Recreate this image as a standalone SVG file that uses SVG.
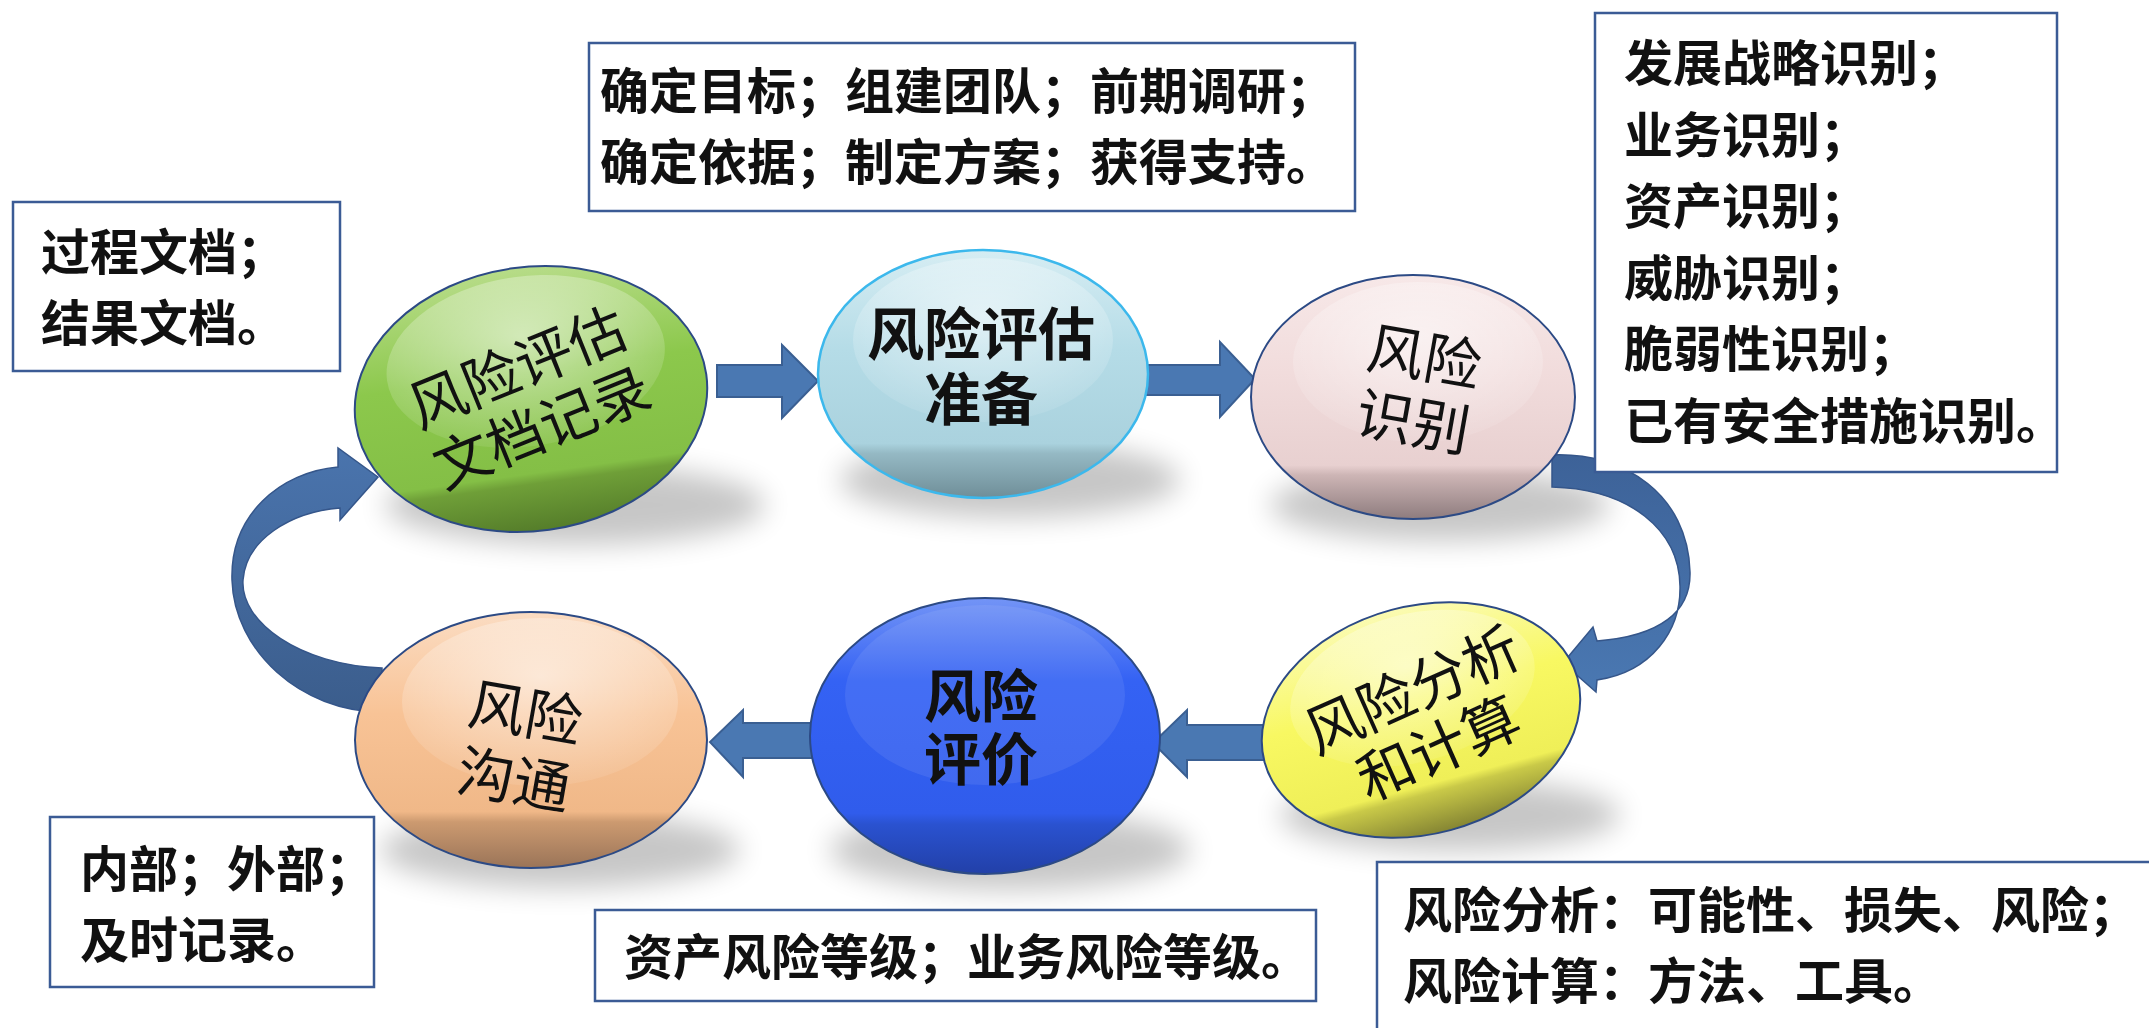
<svg xmlns="http://www.w3.org/2000/svg" width="2149" height="1028" viewBox="0 0 2149 1028">
<style>
.box{fill:#fff;stroke:#3b5b95;stroke-width:2.5}
.bt{font-family:"Noto Sans CJK SC","Noto Sans CJK TC",sans-serif;font-size:49px;font-weight:bold;fill:#111}
.nt{font-family:"Liberation Sans","Noto Sans CJK SC","Noto Sans CJK TC",sans-serif;font-size:57px;fill:#111;text-anchor:middle}
.nb{font-weight:bold}
.edge{stroke:#2c4a85;stroke-width:2}
.arr{fill:#4a78b2;stroke:#3a5f92;stroke-width:2}
.carr{stroke:#35568a;stroke-width:1.5}
.hl{fill:url(#hl)}
.sh{fill:#000;opacity:.22;filter:url(#blur)}
</style>
<defs>
<filter id="blur" x="-50%" y="-50%" width="200%" height="200%"><feGaussianBlur stdDeviation="14"/></filter>
<radialGradient id="hl" cx="0.5" cy="0.35" r="0.65"><stop offset="0" stop-color="#fff" stop-opacity="0.55"/><stop offset="1" stop-color="#fff" stop-opacity="0.08"/></radialGradient>
<linearGradient id="gGreen" x1="0" y1="0" x2="0" y2="1"><stop offset="0" stop-color="#b7dc88"/><stop offset="0.4" stop-color="#8cc84c"/><stop offset="0.78" stop-color="#84bf46"/><stop offset="0.82" stop-color="#6f9f38"/><stop offset="1" stop-color="#557d2a"/></linearGradient>
<linearGradient id="gLBlue" x1="0" y1="0" x2="0" y2="1"><stop offset="0" stop-color="#d6edf3"/><stop offset="0.4" stop-color="#b5dce7"/><stop offset="0.78" stop-color="#aad2de"/><stop offset="0.82" stop-color="#95b9c4"/><stop offset="1" stop-color="#6f8e98"/></linearGradient>
<linearGradient id="gPink" x1="0" y1="0" x2="0" y2="1"><stop offset="0" stop-color="#f7e8e8"/><stop offset="0.4" stop-color="#f1dcdc"/><stop offset="0.78" stop-color="#e8d0d0"/><stop offset="0.82" stop-color="#cdb5b5"/><stop offset="1" stop-color="#8e7c7e"/></linearGradient>
<linearGradient id="gYellow" x1="0" y1="0" x2="0" y2="1"><stop offset="0" stop-color="#fbfbb2"/><stop offset="0.4" stop-color="#f8f862"/><stop offset="0.78" stop-color="#efef58"/><stop offset="0.82" stop-color="#c9c948"/><stop offset="1" stop-color="#858533"/></linearGradient>
<linearGradient id="gBlue" x1="0" y1="0" x2="0" y2="1"><stop offset="0" stop-color="#7394f6"/><stop offset="0.3" stop-color="#3462f4"/><stop offset="0.78" stop-color="#305cec"/><stop offset="0.82" stop-color="#2a52d0"/><stop offset="1" stop-color="#2240a8"/></linearGradient>
<linearGradient id="gOrange" x1="0" y1="0" x2="0" y2="1"><stop offset="0" stop-color="#fbdcc2"/><stop offset="0.4" stop-color="#f8c396"/><stop offset="0.78" stop-color="#f0b888"/><stop offset="0.82" stop-color="#cc9a70"/><stop offset="1" stop-color="#9a7458"/></linearGradient>
<linearGradient id="gArcL" x1="0" y1="0" x2="0" y2="1"><stop offset="0" stop-color="#4a74ad"/><stop offset="1" stop-color="#3b5d8c"/></linearGradient>
<linearGradient id="gArcR" x1="0" y1="0" x2="0" y2="1"><stop offset="0" stop-color="#3d6298"/><stop offset="1" stop-color="#4a78b2"/></linearGradient>
</defs>

<g id="shadows">
<ellipse class="sh" cx="575" cy="505" rx="190" ry="40"/>
<ellipse class="sh" cx="1010" cy="480" rx="170" ry="38"/>
<ellipse class="sh" cx="1440" cy="505" rx="170" ry="36"/>
<ellipse class="sh" cx="1450" cy="815" rx="170" ry="36"/>
<ellipse class="sh" cx="1010" cy="850" rx="180" ry="40"/>
<ellipse class="sh" cx="560" cy="850" rx="180" ry="38"/>
</g>

<g id="connectors">
<path class="arr" d="M717,365 H782 V345 L818,381 L782,418 V397 H717 Z"/>
<path class="arr" d="M1145,365 H1220 V342 L1255,379 L1220,417 V395 H1145 Z"/>
<path class="arr" d="M1264,725 H1187 V710 L1153,743 L1187,777 V760 H1264 Z"/>
<path class="arr" d="M815,723 H743 V710 L710,742 L743,777 V758 H815 Z"/>
<path class="carr" fill="url(#gArcL)" d="M382,712 L382,668 C300,665 240,622 243,580 C246,540 290,512 340,508 L340,520 L378,477 L338,448 L338,467 C280,472 230,515 232,580 C234,650 300,712 382,712 Z"/>
<path class="carr" fill="url(#gArcR)" d="M1552,455 C1625,452 1688,495 1690,572 C1691,612 1660,636 1597,641 L1593,627 L1563,663 L1596,692 L1597,680 C1652,672 1681,630 1680,586 C1679,530 1630,489 1552,487 Z"/>
</g>

<g id="node-doc">
<g transform="translate(531,399) rotate(-8)">
<ellipse class="edge" rx="177" ry="132" fill="url(#gGreen)"/>
<ellipse class="hl" cy="-38" rx="140" ry="85"/>
</g>
<g transform="translate(529,396) rotate(-22)">
<text class="nt" x="0" y="-10">风险评估</text>
<text class="nt" x="0" y="55">文档记录</text>
</g>
</g>

<g id="node-prep">
<ellipse cx="983" cy="374" rx="165" ry="124" fill="url(#gLBlue)" stroke="#3cb8ec" stroke-width="2.5"/>
<ellipse class="hl" cx="983" cy="340" rx="130" ry="82"/>
<text class="nt nb" x="981" y="355">风险评估</text>
<text class="nt nb" x="981" y="420">准备</text>
</g>

<g id="node-ident">
<ellipse class="edge" cx="1413" cy="397" rx="162" ry="122" fill="url(#gPink)"/>
<ellipse class="hl" cx="1418" cy="362" rx="125" ry="80"/>
<g transform="translate(1419,388) rotate(10)">
<text class="nt" x="0" y="-11">风险</text>
<text class="nt" x="0" y="55">识别</text>
</g>
</g>

<g id="node-analysis">
<g transform="translate(1421,720) rotate(-15)">
<ellipse class="edge" rx="162" ry="114" fill="url(#gYellow)"/>
<ellipse class="hl" cy="-33" rx="125" ry="74"/>
</g>
<g transform="translate(1425,718) rotate(-24)">
<text class="nt" x="0" y="-10">风险分析</text>
<text class="nt" x="0" y="54">和计算</text>
</g>
</g>

<g id="node-eval">
<ellipse class="edge" cx="985" cy="736" rx="175" ry="138" fill="url(#gBlue)"/>
<ellipse cx="985" cy="695" rx="140" ry="90" fill="#fff" opacity="0.08"/>
<text class="nt nb" x="981" y="717">风险</text>
<text class="nt nb" x="981" y="780">评价</text>
</g>

<g id="node-comm">
<ellipse class="edge" cx="531" cy="740" rx="176" ry="128" fill="url(#gOrange)"/>
<ellipse class="hl" cx="540" cy="702" rx="138" ry="84"/>
<g transform="translate(520,745) rotate(10)">
<text class="nt" x="0" y="-12">风险</text>
<text class="nt" x="0" y="56">沟通</text>
</g>
</g>

<g id="note-doc">
<rect class="box" x="13" y="202" width="327" height="169"/>
<text class="bt" x="41" y="270">过程文档；</text>
<text class="bt" x="41" y="341">结果文档。</text>
</g>

<g id="note-prep">
<rect class="box" x="589" y="43" width="766" height="168"/>
<text class="bt" x="600" y="109">确定目标；组建团队；前期调研；</text>
<text class="bt" x="600" y="180">确定依据；制定方案；获得支持。</text>
</g>

<g id="note-ident">
<rect class="box" x="1595" y="13" width="462" height="459"/>
<text class="bt" x="1624" y="81">发展战略识别；</text>
<text class="bt" x="1624" y="152.6">业务识别；</text>
<text class="bt" x="1624" y="224.2">资产识别；</text>
<text class="bt" x="1624" y="295.8">威胁识别；</text>
<text class="bt" x="1624" y="367.4">脆弱性识别；</text>
<text class="bt" x="1624" y="439">已有安全措施识别。</text>
</g>

<g id="note-comm">
<rect class="box" x="50" y="817" width="324" height="170"/>
<text class="bt" x="80" y="887">内部；外部；</text>
<text class="bt" x="80" y="958">及时记录。</text>
</g>

<g id="note-eval">
<rect class="box" x="595" y="910" width="721" height="91"/>
<text class="bt" x="624" y="975">资产风险等级；业务风险等级。</text>
</g>

<g id="note-analysis">
<rect class="box" x="1377" y="862" width="800" height="200"/>
<text class="bt" x="1403" y="928">风险分析：可能性、损失、风险；</text>
<text class="bt" x="1403" y="999">风险计算：方法、工具。</text>
</g>
</svg>
